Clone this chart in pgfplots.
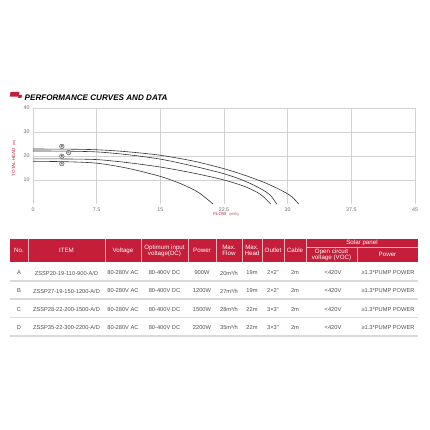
\documentclass[border=0pt]{standalone}
\usepackage{pgfplots}
\pgfplotsset{compat=1.18}
\usepackage{fontspec}
\setmainfont{Liberation Sans}
\definecolor{hdr}{RGB}{196,30,58}
\definecolor{txt}{RGB}{80,80,80}
\newcommand\trow[7]{%
 \node at (19pt,#1pt) {#2};
 \node at (66.5pt,#1pt) {#3};
 \node at (123pt,#1pt) {80-280V AC};
 \node at (164.5pt,#1pt) {80-400V DC};
 \node at (202pt,#1pt) {#4};
 \node at (229pt,#1pt) {#5};
 \node at (252pt,#1pt) {#6};
 \node at (273pt,#1pt) {#7};
 \node at (295pt,#1pt) {2m};
 \node at (333pt,#1pt) {<420V};
 \node at (388pt,#1pt) {≥1.3*PUMP POWER};}
\begin{document}
\begin{tikzpicture}
\fill[white] (0pt,0pt) rectangle (430pt,430pt);
% title
\fill[hdr] (10.5pt,338pt) -- (19.5pt,338pt) -- (18.8pt,333.3pt) -- (9.8pt,333.3pt) -- cycle;
\fill[hdr] (18.6pt,335.2pt) -- (22pt,335.2pt) -- (21.5pt,332pt) -- (18.1pt,332pt) -- cycle;
\node[anchor=west, inner sep=0pt, font=\fontsize{8.1}{9}\selectfont\bfseries\itshape] at (24.5pt,332.5pt) {PERFORMANCE CURVES AND DATA};
\begin{axis}[at={(33pt,226pt)}, anchor=south west, scale only axis,
  width=382pt, height=96pt, xmin=0, xmax=45, ymin=0, ymax=40,
  xtick={0,7.5,15,22.5,30,37.5,45}, ytick={10,20,30,40},
  grid=major, grid style={gray!35, line width=0.5pt},
  axis line style={draw=none}, major tick length=0pt,
  tick label style={font=\fontsize{5.3}{6}\selectfont, text=gray!85!black},
  /pgf/number format/assume math mode=true,
  clip=false]
\addplot[smooth, black!80, line width=0.6pt] coordinates {(0,22.9)(4,22.85)(7.5,22.6)(11,21.8)(15,20.3)(19,17.8)(22.5,14.7)(25,11.9)(27.5,8.6)(29.5,5.2)(30.5,3.0)(31.3,0)};
\addplot[smooth, black!80, line width=0.6pt] coordinates {(0,22.1)(4,22.0)(7.5,21.7)(11,20.6)(15,18.7)(19,15.7)(22.5,12.6)(25,9.5)(27,6.0)(28,3.5)(28.7,0)};
\addplot[smooth, black!80, line width=0.6pt] coordinates {(0,18.8)(4,18.75)(7.5,18.5)(11,17.3)(15,15.4)(19,12.8)(22.5,10.0)(25,7.2)(26.8,4.0)(28.0,0)};
\addplot[smooth, black!80, line width=0.6pt] coordinates {(0,17.8)(4,17.6)(7.5,17.0)(11,15.0)(15,11.5)(17.5,8.3)(19.5,4.8)(21.2,0)};
\begin{scope}[every node/.style={circle, draw=black!70, fill=gray!25, line width=0.4pt, inner sep=0pt, minimum size=4.6pt, font=\fontsize{3}{3}\selectfont}]
\node at (axis cs:3.4,24.0) {D};
\node at (axis cs:4.2,21.4) {C};
\node at (axis cs:3.4,19.9) {B};
\node at (axis cs:3.4,16.8) {A};
\end{scope}
\end{axis}
\node[rotate=90, text=hdr, inner sep=0pt, font=\fontsize{4.5}{5}\selectfont] at (14pt,272pt) {TOTAL HEAD\hspace{3pt}{\fontsize{3.5}{4}\selectfont(m)}};
\node[text=hdr, inner sep=0pt, font=\fontsize{4.5}{5}\selectfont] at (226pt,215.5pt) {FLOW\hspace{3pt}{\fontsize{3.5}{4}\selectfont(m³/h)}};
% table header
\fill[hdr] (10pt,191pt) rectangle (418pt,168pt);
\begin{scope}[white!65!hdr, line width=0.5pt]
\foreach \x in {28,105,141,188,216,242,262,284,306} \draw (\x pt,191pt) -- (\x pt,168pt);
\draw (357pt,183pt) -- (357pt,168pt);
\draw (306pt,183pt) -- (418pt,183pt);
\end{scope}
\begin{scope}[every node/.style={text=white, inner sep=0pt, align=center, font=\fontsize{6.2}{6}\selectfont}]
\node at (19pt,179.5pt) {No.};
\node at (66.5pt,179.5pt) {ITEM};
\node at (123pt,179.5pt) {Voltage};
\node at (164.5pt,179.5pt) {Optimum input\\voltage(DC)};
\node at (202pt,179.5pt) {Power};
\node at (229pt,179.5pt) {Max.\\Flow};
\node at (252pt,179.5pt) {Max.\\Head};
\node at (273pt,179.5pt) {Outlet};
\node at (295pt,179.5pt) {Cable};
\node at (362pt,187pt) {Solar panel};
\node at (331.5pt,175.5pt) {Open circuit\\voltage (VOC)};
\node at (387.5pt,175.5pt) {Power};
\end{scope}
% row separators
\foreach \y in {149,131,112.7,94} \draw[gray!30, line width=1.3pt] (10pt,\y pt) -- (418pt,\y pt);
\begin{scope}[every node/.style={text=txt, inner sep=0pt, font=\fontsize{5.7}{6}\selectfont}]
\trow{157}{A}{ZSSP20-19-110-900-A/D}{900W}{20m³/h}{19m}{2×2"}
\trow{139}{B}{ZSSP27-19-150-1200-A/D}{1200W}{27m³/h}{19m}{2×2"}
\trow{120.5}{C}{ZSSP28-22-200-1500-A/D}{1500W}{28m³/h}{22m}{3×3"}
\trow{102.5}{D}{ZSSP35-22-300-2200-A/D}{2200W}{35m³/h}{22m}{3×3"}
\end{scope}
\end{tikzpicture}
\end{document}
